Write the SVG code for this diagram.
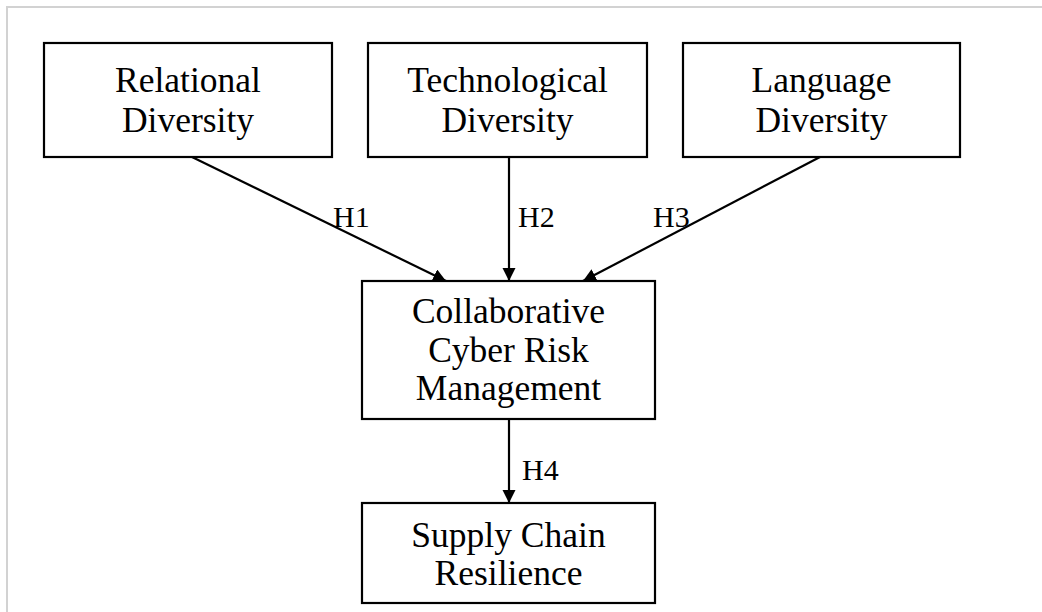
<svg xmlns="http://www.w3.org/2000/svg" width="1042" height="612" viewBox="0 0 1042 612">
  <style>
    .box { fill: #ffffff; stroke: #000000; stroke-width: 2.2; }
    .lbl { font-family: "Liberation Serif", "Times New Roman", serif; font-size: 35.5px; fill: #000000; text-anchor: middle; }
    .hyp { font-family: "Liberation Serif", "Times New Roman", serif; font-size: 30px; fill: #000000; }
    .edge { stroke: #000000; stroke-width: 2.2; fill: none; marker-end: url(#arrow); }
    .frame { stroke: #d2d2d2; stroke-width: 2; fill: none; }
  </style>
  <defs>
    <!-- solid triangular arrowhead, tip at the end of the line -->
    <marker id="arrow" markerWidth="14" markerHeight="14" refX="13" refY="6.5" orient="auto" markerUnits="userSpaceOnUse">
      <path d="M0,0 L13,6.5 L0,13 Z" fill="#000000"/>
    </marker>
  </defs>

  <rect width="1042" height="612" fill="#ffffff"/>
  <path class="frame" d="M7,612 L7,7 L1042,7"/>

  <g id="relational-diversity">
    <rect class="box" x="44" y="43" width="288" height="114"/>
    <text class="lbl" x="188" y="92">Relational</text>
    <text class="lbl" x="188" y="132">Diversity</text>
  </g>

  <g id="technological-diversity">
    <rect class="box" x="368" y="43" width="279" height="114"/>
    <text class="lbl" x="507.5" y="92">Technological</text>
    <text class="lbl" x="507.5" y="132">Diversity</text>
  </g>

  <g id="language-diversity">
    <rect class="box" x="683" y="43" width="277" height="114"/>
    <text class="lbl" x="821.5" y="92">Language</text>
    <text class="lbl" x="821.5" y="132">Diversity</text>
  </g>

  <g id="collaborative-cyber-risk-management">
    <rect class="box" x="362" y="281" width="293" height="138"/>
    <text class="lbl" x="508.5" y="323">Collaborative</text>
    <text class="lbl" x="508.5" y="362">Cyber Risk</text>
    <text class="lbl" x="508.5" y="400">Management</text>
  </g>

  <g id="supply-chain-resilience">
    <rect class="box" x="362" y="503" width="293" height="100"/>
    <text class="lbl" x="508.5" y="547">Supply Chain</text>
    <text class="lbl" x="508.5" y="585">Resilience</text>
  </g>

  <g id="connectors">
    <line class="edge" x1="192" y1="157" x2="446" y2="281"/>
    <line class="edge" x1="509" y1="157" x2="509" y2="281"/>
    <line class="edge" x1="820" y1="157" x2="583" y2="281"/>
    <line class="edge" x1="509" y1="419" x2="509" y2="503"/>
    <text class="hyp" x="333" y="227">H1</text>
    <text class="hyp" x="518" y="227">H2</text>
    <text class="hyp" x="653" y="227">H3</text>
    <text class="hyp" x="522" y="480">H4</text>
  </g>
</svg>
